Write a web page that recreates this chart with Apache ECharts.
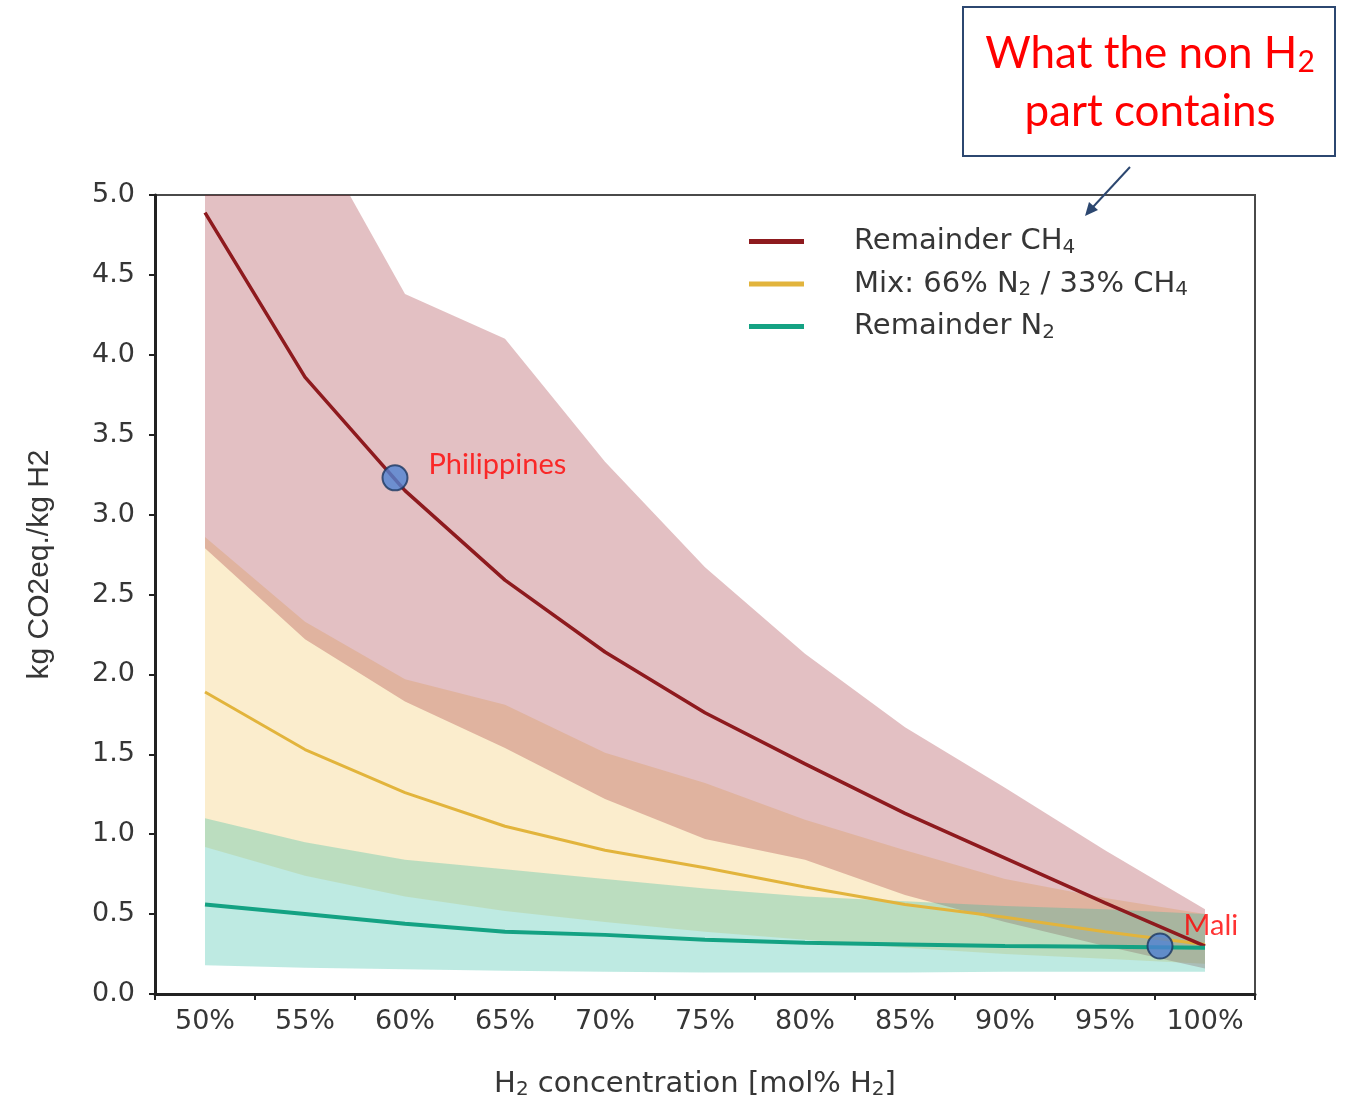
<!DOCTYPE html>
<html>
<head>
<meta charset="utf-8">
<title>CO2 intensity of hydrogen by H2 concentration</title>
<script src="https://cdn.jsdelivr.net/npm/echarts@6/dist/echarts.min.js"></script>
<style>
  html, body { margin: 0; padding: 0; background: #ffffff; }
  #chart { width: 1350px; height: 1105px; }
</style>
</head>
<body>
<div id="chart"></div>
<script>
// H2 concentration, mol% (one point per category)
const h2Pct = [50, 55, 60, 65, 70, 75, 80, 85, 90, 95, 100];
const tickLabels = ['50%', '55%', '60%', '65%', '70%', '75%', '80%', '85%', '90%', '95%', '100%'];

// kg CO2eq. / kg H2 — central curves
const ch4Mid = [4.89, 3.86, 3.15, 2.59, 2.14, 1.76, 1.44, 1.13, 0.85, 0.57, 0.30];
const mixMid = [1.89, 1.53, 1.26, 1.05, 0.90, 0.79, 0.67, 0.56, 0.48, 0.39, 0.31];
const n2Mid  = [0.56, 0.50, 0.44, 0.39, 0.37, 0.34, 0.32, 0.31, 0.30, 0.295, 0.29];

// uncertainty ranges (low / high)
const ch4Lo = [2.79, 2.22, 1.83, 1.54, 1.22, 0.97, 0.84, 0.62, 0.45, 0.30, 0.16];
const ch4Hi = [6.60, 5.50, 4.38, 4.10, 3.33, 2.67, 2.13, 1.67, 1.29, 0.90, 0.53];
const mixLo = [0.92, 0.74, 0.61, 0.52, 0.45, 0.39, 0.34, 0.29, 0.25, 0.22, 0.19];
const mixHi = [2.86, 2.33, 1.97, 1.81, 1.51, 1.32, 1.09, 0.90, 0.72, 0.60, 0.50];
const n2Lo  = [0.18, 0.165, 0.155, 0.145, 0.14, 0.135, 0.135, 0.135, 0.14, 0.14, 0.14];
const n2Hi  = [1.10, 0.95, 0.84, 0.78, 0.72, 0.66, 0.61, 0.58, 0.55, 0.53, 0.50];

// highlighted sites
const siteNames = ['Philippines', 'Mali'];
const siteH2    = [59.5, 97.75];
const siteCO2   = [3.23, 0.30];

const yTicks = { min: 0, max: 5, step: 0.5 };

const FONT = '"DejaVu Sans", "Liberation Sans", sans-serif';
const VFONT = '"Liberation Sans", Arial, sans-serif';
const NOTE_FONT = 'Lato, "Open Sans", sans-serif';
const TXT = '#363636';

const pairs = (xs, ys) => xs.map((x, i) => [x, ys[i]]);

// shaded range between lo and hi, drawn as one polygon in data coordinates
function band(key, lo, hi, fill) {
  return {
    name: key, type: 'custom', xAxisIndex: 1, silent: true, z: 1,
    data: h2Pct.map((x, i) => [x, lo[i], hi[i]]),
    encode: { x: 0, y: [1, 2] },
    renderItem: (params, api) => {
      if (params.dataIndex !== 0) return null;
      const upper = h2Pct.map((x, i) => api.coord([x, hi[i]]));
      const lower = h2Pct.map((x, i) => api.coord([x, lo[i]])).reverse();
      const cs = params.coordSys;
      return {
        type: 'polygon',
        shape: { points: upper.concat(lower) },
        style: { fill: fill },
        clipPath: { type: 'rect', shape: { x: cs.x, y: cs.y, width: cs.width, height: cs.height } }
      };
    }
  };
}

function curve(name, ys, color, width) {
  return {
    name: name, type: 'line', xAxisIndex: 1, data: pairs(h2Pct, ys),
    color: color, showSymbol: false, symbol: 'none',
    lineStyle: { color: color, width: width }, z: 3
  };
}

const legendLabels = {
  'Remainder CH4': 'Remainder CH{sub|4}',
  'Mix: 66% N2 / 33% CH4': 'Mix: 66% N{sub|2} / 33% CH{sub|4}',
  'Remainder N2': 'Remainder N{sub|2}'
};

const chart = echarts.init(document.getElementById('chart'));

chart.setOption({
  backgroundColor: '#ffffff',
  animation: false,
  grid: {
    left: 155, right: 95, top: 195, bottom: 110,
    show: true, borderColor: '#4a4a4a', borderWidth: 2, backgroundColor: 'transparent'
  },
  legend: {
    orient: 'vertical', left: 744, top: 222, itemGap: 12,
    icon: 'rect', itemWidth: 55, itemHeight: 5,
    data: ['Remainder CH4', 'Mix: 66% N2 / 33% CH4', 'Remainder N2'],
    formatter: n => legendLabels[n],
    textStyle: {
      fontFamily: FONT, fontSize: 29, color: TXT, padding: [0, 0, 0, 45],
      rich: { sub: { fontSize: 20, fontFamily: FONT, color: TXT, padding: [12, 0, 0, 0] } }
    }
  },
  xAxis: [
    {
      type: 'category', data: tickLabels, boundaryGap: true, position: 'bottom',
      name: 'H{sub|2} concentration [mol% H{sub|2}]',
      nameLocation: 'middle', nameGap: 74,
      nameTextStyle: {
        fontFamily: FONT, fontSize: 29, color: TXT, padding: [0, 20, 0, 0],
        rich: { sub: { fontSize: 20, fontFamily: FONT, color: TXT, padding: [12, 0, 0, 0] } }
      },
      axisLine: { lineStyle: { color: '#222', width: 3 } },
      axisTick: { show: true, interval: 0, alignWithLabel: false, length: 6, lineStyle: { color: '#222', width: 2 } },
      axisLabel: { interval: 0, fontFamily: FONT, fontSize: 27, color: TXT, margin: 14 },
      splitLine: { show: false }
    },
    { type: 'value', min: 47.5, max: 102.5, show: false }
  ],
  yAxis: {
    type: 'value', min: yTicks.min, max: yTicks.max, interval: yTicks.step,
    name: 'kg CO2eq./kg H2', nameLocation: 'middle', nameGap: 100,
    nameTextStyle: { fontFamily: VFONT, fontSize: 30, color: TXT, padding: [0, 0, 0, 60] },
    axisLine: { show: true, lineStyle: { color: '#222', width: 3 } },
    axisTick: { show: true, length: 6, lineStyle: { color: '#222', width: 2 } },
    axisLabel: { fontFamily: FONT, fontSize: 27, color: TXT, margin: 20, formatter: v => v.toFixed(1) },
    splitLine: { show: false }
  },
  series: [
    band('mix', mixLo, mixHi, 'rgba(240,190,70,0.27)'),
    band('ch4', ch4Lo, ch4Hi, 'rgba(155,30,40,0.28)'),
    band('n2', n2Lo, n2Hi, 'rgba(40,185,160,0.30)'),
    curve('Mix: 66% N2 / 33% CH4', mixMid, '#e2b43c', 3),
    curve('Remainder CH4', ch4Mid, '#8e1a1e', 3.5),
    curve('Remainder N2', n2Mid, '#14a283', 4),
    {
      name: 'sites', type: 'scatter', xAxisIndex: 1,
      data: siteNames.map((n, i) => ({
        name: n, value: [siteH2[i], siteCO2[i]],
        label: i === 0
          ? { position: 'right', distance: 20, offset: [0, -13] }
          : { position: 'right', distance: 10, offset: [0, -20] }
      })),
      symbol: 'circle', symbolSize: 25, z: 5,
      itemStyle: { color: '#4f82d3', borderColor: '#1c3760', borderWidth: 2 },
      label: {
        show: true, formatter: p => p.name,
        fontFamily: NOTE_FONT, fontSize: 29, color: '#ff0000'
      }
    }
  ],
  graphic: [
    {
      type: 'rect', shape: { x: 963, y: 7, width: 372, height: 149 },
      style: { fill: '#ffffff', stroke: '#2c4770', lineWidth: 2 }, z: 10
    },
    {
      type: 'text', x: 1150, y: 83, z: 11,
      style: {
        text: 'What the non H{s|2}\npart contains',
        align: 'center', verticalAlign: 'middle',
        fontFamily: NOTE_FONT, fontSize: 44, lineHeight: 58, fill: '#ff0000',
        rich: { s: { fontFamily: NOTE_FONT, fontSize: 30, fill: '#ff0000', padding: [16, 0, 0, 0] } }
      }
    },
    {
      type: 'line', z: 10,
      shape: { x1: 1130, y1: 167, x2: 1093, y2: 207 },
      style: { stroke: '#2c4770', lineWidth: 2 }
    },
    {
      type: 'polygon', z: 10,
      shape: { points: [[1085, 216], [1098, 210], [1089, 202]] },
      style: { fill: '#2c4770' }
    }
  ]
});
</script>
</body>
</html>
